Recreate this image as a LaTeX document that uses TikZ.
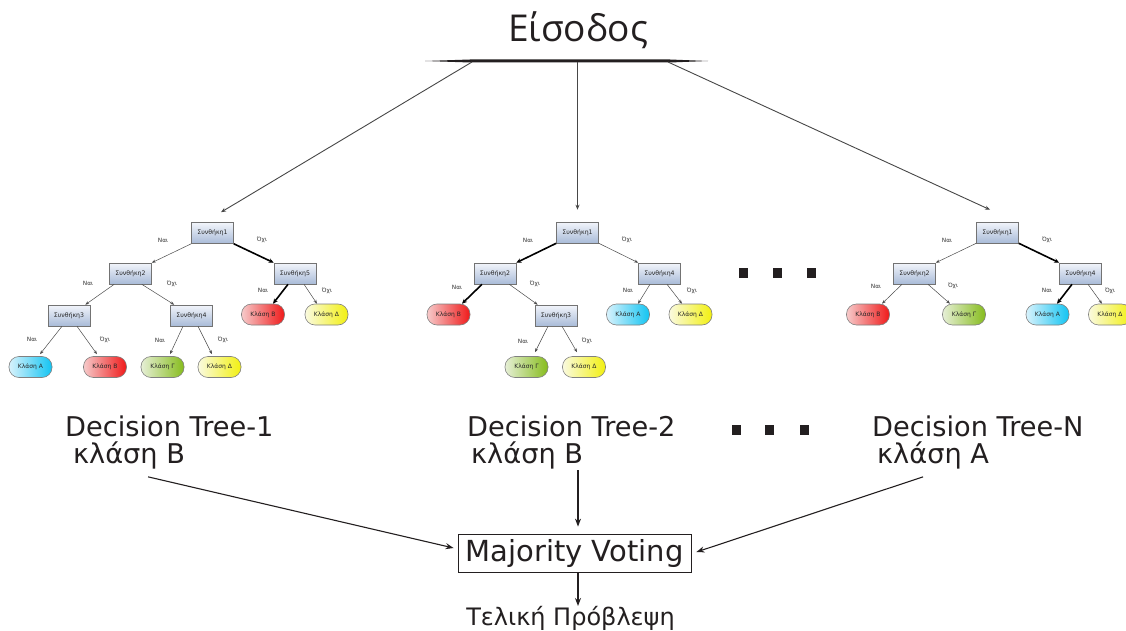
\documentclass[tikz,border=0pt]{standalone}
\usepackage{fontspec}
\setmainfont{DejaVu Sans}
\newfontfamily\headfont{Open Sans}
\usetikzlibrary{arrows.meta}
\definecolor{ink}{HTML}{231F20}
\definecolor{condtop}{HTML}{F2F5FB}
\definecolor{condbot}{HTML}{A9BBD8}
\definecolor{cyanL}{HTML}{D8F2FC}
\definecolor{cyanR}{HTML}{12C4F2}
\definecolor{redL}{HTML}{F6CACA}
\definecolor{redR}{HTML}{F01A1A}
\definecolor{grnL}{HTML}{E6EFD6}
\definecolor{grnR}{HTML}{86BC1C}
\definecolor{ylwL}{HTML}{FAFAE0}
\definecolor{ylwR}{HTML}{F2F010}
\begin{document}
\begin{tikzpicture}[x=1pt,y=-1pt,
  cond/.style={draw=black!55, line width=0.6pt, rectangle, minimum width=42pt,
    minimum height=21pt, inner sep=0pt, top color=condtop, bottom color=condbot,
    font=\fontsize{6.2}{7}\selectfont, text=black!85},
  leaf/.style={draw=black!50, line width=0.6pt, rounded corners=10pt,
    minimum width=43pt, minimum height=21pt, inner sep=0pt,
    font=\fontsize{6}{7}\selectfont, text=black!85},
  clA/.style={leaf, left color=cyanL, right color=cyanR},
  clB/.style={leaf, left color=redL, right color=redR},
  clG/.style={leaf, left color=grnL, right color=grnR},
  clD/.style={leaf, left color=ylwL, right color=ylwR},
  br/.style={-{Stealth[length=4pt,width=3pt]}, draw=black!70, line width=0.5pt},
  brb/.style={-{Stealth[length=5pt,width=4.5pt]}, draw=black, line width=1.6pt},
  yn/.style={font=\fontsize{5.8}{7}\selectfont, text=black!80, inner sep=0pt},
  feed/.style={-{Stealth[length=5pt,width=4pt]}, draw=black!72, line width=0.9pt},
  vote/.style={-{Stealth[length=8pt,width=6pt]}, draw=ink, line width=1.1pt},
  lbl/.style={text=ink, inner sep=0pt, font=\fontsize{27.2}{30}\selectfont},
  dot/.style={fill=ink}]
\useasboundingbox[fill=white] (0,0) rectangle (1126,631);

% ---------- input ----------
\node[text=ink, inner sep=0pt, font=\headfont\fontsize{37}{40}\selectfont] (in) at (578,30) {Είσοδος};
\fill[ink] (425,61) -- (470,59.5) -- (670,59.5) -- (708,61) -- (670,62.5) -- (470,62.5) -- cycle;
\coordinate (inL) at (472,62);
\coordinate (inM) at (577.5,62);
\coordinate (inR) at (668,62);

% ---------- tree 1 ----------
\node[cond] (a1) at (212.5,233) {Συνθήκη1};
\node[cond] (a2) at (130.5,273.5) {Συνθήκη2};
\node[cond] (a5) at (295,273.5) {Συνθήκη5};
\node[cond] (a3) at (69,315.5) {Συνθήκη3};
\node[cond] (a4) at (191.5,315.5) {Συνθήκη4};
\node[clB] (aB2) at (263,314.5) {Κλάση Β};
\node[clD] (aD2) at (326.5,314.5) {Κλάση Δ};
\node[clA] (aA) at (30.5,367) {Κλάση Α};
\node[clB] (aB) at (105,367) {Κλάση Β};
\node[clG] (aG) at (162.5,367) {Κλάση Γ};
\node[clD] (aD) at (219.5,367) {Κλάση Δ};
\draw[br]  (a1.south west) -- (a2.north east);
\draw[brb] (a1.south east) -- (a5.north west);
\draw[br]  ([xshift=5pt]a2.south west) -- ([xshift=-5pt]a3.north east);
\draw[br]  ([xshift=-10pt]a2.south east) -- ([xshift=4pt]a4.north west);
\draw[br]  ([xshift=-7pt]a3.south) -- ([xshift=9.5pt,yshift=2pt]aA.north);
\draw[br]  ([xshift=8pt]a3.south) -- ([xshift=-8pt,yshift=2pt]aB.north);
\draw[br]  ([xshift=-8.5pt]a4.south) -- ([xshift=7.5pt,yshift=2pt]aG.north);
\draw[br]  ([xshift=6.5pt]a4.south) -- ([xshift=-7.5pt,yshift=2pt]aD.north);
\draw[brb] ([xshift=-7pt]a5.south) -- ([xshift=10pt]aB2.north);
\draw[br]  ([xshift=9pt]a5.south) -- ([xshift=-9.5pt]aD2.north);
\node[yn] at (163,240) {Ναι};
\node[yn] at (262,240) {Όχι};
\node[yn] at (88,283) {Ναι};
\node[yn] at (172,284) {Όχι};
\node[yn] at (263,290) {Ναι};
\node[yn] at (327,291) {Όχι};
\node[yn] at (32,339) {Ναι};
\node[yn] at (105,340) {Όχι};
\node[yn] at (160,340) {Ναι};
\node[yn] at (223,340) {Όχι};

% ---------- tree 2 ----------
\node[cond] (b1) at (577.5,232.5) {Συνθήκη1};
\node[cond] (b2) at (495,273.5) {Συνθήκη2};
\node[cond] (b4) at (659.5,273.5) {Συνθήκη4};
\node[clB] (bB) at (448.5,314.5) {Κλάση Β};
\node[cond] (b3) at (556,315.5) {Συνθήκη3};
\node[clA] (bA) at (628,314.5) {Κλάση Α};
\node[clD] (bD) at (690.5,314.5) {Κλάση Δ};
\node[clG] (bG) at (526.5,367) {Κλάση Γ};
\node[clD] (bD2) at (584,367) {Κλάση Δ};
\draw[brb] (b1.south west) -- (b2.north east);
\draw[br]  (b1.south east) -- (b4.north west);
\draw[brb] ([xshift=-13pt]b2.south) -- ([xshift=13.5pt]bB.north);
\draw[br]  ([xshift=-7pt]b2.south east) -- ([xshift=3pt]b3.north west);
\draw[br]  ([xshift=-9.5pt]b4.south) -- ([xshift=10pt]bA.north);
\draw[br]  ([xshift=7.5pt]b4.south) -- ([xshift=-8.5pt]bD.north);
\draw[br]  ([xshift=-8pt]b3.south) -- ([xshift=8.5pt,yshift=4pt]bG.north);
\draw[br]  ([xshift=6pt]b3.south) -- ([xshift=-7pt,yshift=4pt]bD2.north);
\node[yn] at (528,240) {Ναι};
\node[yn] at (627,240) {Όχι};
\node[yn] at (457,287) {Ναι};
\node[yn] at (535,284) {Όχι};
\node[yn] at (628,290) {Ναι};
\node[yn] at (692,291) {Όχι};
\node[yn] at (523,341) {Ναι};
\node[yn] at (587,341) {Όχι};

% ---------- tree N ----------
\node[cond] (c1) at (997.5,232.5) {Συνθήκη1};
\node[cond] (c2) at (914.5,273.5) {Συνθήκη2};
\node[cond] (c4) at (1080.5,273.5) {Συνθήκη4};
\node[clB] (cB) at (868,314.5) {Κλάση Β};
\node[clG] (cG) at (964,314.5) {Κλάση Γ};
\node[clA] (cA) at (1047.5,314.5) {Κλάση Α};
\node[clD] (cD) at (1110,314.5) {Κλάση Δ};
\draw[br]  (c1.south west) -- (c2.north east);
\draw[brb] (c1.south east) -- (c4.north west);
\draw[br]  ([xshift=-12.5pt]c2.south) -- ([xshift=14pt]cB.north);
\draw[br]  ([xshift=13.5pt]c2.south) -- ([xshift=-14pt]cG.north);
\draw[brb] ([xshift=-8.5pt]c4.south) -- ([xshift=9.5pt]cA.north);
\draw[br]  ([xshift=7.5pt]c4.south) -- ([xshift=-8pt]cD.north);
\node[yn] at (947,240) {Ναι};
\node[yn] at (1047,240) {Όχι};
\node[yn] at (876,286) {Ναι};
\node[yn] at (953,286) {Όχι};
\node[yn] at (1047,290) {Ναι};
\node[yn] at (1110,291) {Όχι};

% ---------- feeding the trees ----------
\draw[feed] (inL) -- ([shift={(8.5pt,10pt)}]a1.north);
\draw[feed] (inM) -- ([yshift=12pt]b1.north);
\draw[feed] (inR) -- ([shift={(-7.5pt,12pt)}]c1.north);

% ---------- ellipsis ----------
\foreach \px in {743,777,811} \fill[dot] (\px-4.5,268) rectangle (\px+4.5,278);
\foreach \px in {736,769,804} \fill[dot] (\px-4.5,425) rectangle (\px+4.5,435);

% ---------- tree outcomes ----------
\node[lbl, anchor=base west] (d1) at (65,436) {Decision Tree-1};
\node[lbl, anchor=base west] (k1) at (73,463) {κλάση B};
\node[lbl, anchor=base west] (d2) at (467,436) {Decision Tree-2};
\node[lbl, anchor=base west] (k2) at (471,463) {κλάση B};
\node[lbl, anchor=base west] (dN) at (872,436) {Decision Tree-N};
\node[lbl, anchor=base west] (kN) at (877,463) {κλάση A};

% ---------- voting ----------
\node[draw=ink, line width=0.8pt, minimum width=233pt, minimum height=38pt, inner sep=0pt,
  text=ink, font=\fontsize{29}{30}\selectfont] (mv) at (574.5,553) {Majority Voting};
\node[text=ink, inner sep=0pt, anchor=base, font=\fontsize{24}{26}\selectfont] (tp) at (570.5,625) {Τελική Πρόβλεψη};
\coordinate (k2out) at (578,470);
\coordinate (tpin) at (578,606);
\draw[vote] ([xshift=19pt,yshift=-8pt]k1.south) -- ([shift={(-4pt,5pt)}]mv.west);
\draw[vote] (k2out) -- ([xshift=3.5pt,yshift=7pt]mv.north);
\draw[vote] ([xshift=-10pt,yshift=-8pt]kN.south) -- ([xshift=5pt,yshift=1pt]mv.east);
\draw[vote] ([xshift=3.5pt]mv.south) -- (tpin);
\end{tikzpicture}
\end{document}
